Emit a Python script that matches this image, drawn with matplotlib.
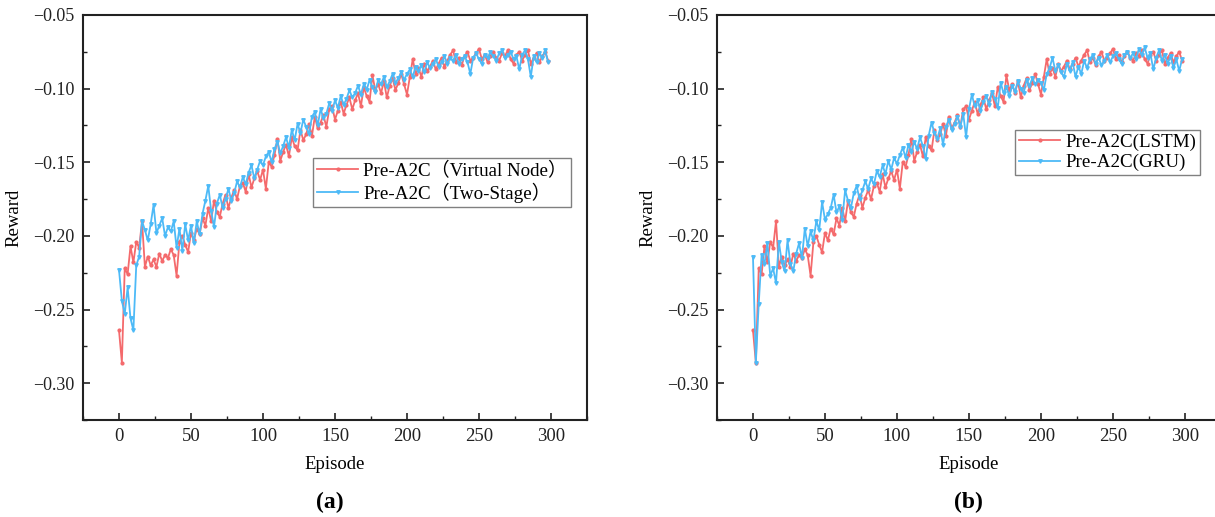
import numpy as np
import matplotlib
matplotlib.use("Agg")
import matplotlib.pyplot as plt
from matplotlib.ticker import MultipleLocator, FuncFormatter

plt.rcParams['font.family'] = ['Liberation Serif', 'Noto Sans CJK SC', 'DejaVu Sans']

# episodes (one sample every 2 episodes)
episodes = np.arange(0, 300, 2)

# baseline series, shared by both panels (red)
red_reward = [
    -0.264, -0.286, -0.222, -0.226, -0.207, -0.218, -0.204, -0.208, -0.190, -0.221,
    -0.214, -0.220, -0.216, -0.221, -0.212, -0.217, -0.213, -0.215, -0.209, -0.213,
    -0.227, -0.204, -0.200, -0.206, -0.211, -0.198, -0.203, -0.195, -0.199, -0.188,
    -0.193, -0.181, -0.190, -0.176, -0.184, -0.187, -0.178, -0.172, -0.181, -0.174,
    -0.169, -0.175, -0.166, -0.164, -0.170, -0.158, -0.167, -0.161, -0.156, -0.162,
    -0.155, -0.168, -0.150, -0.153, -0.145, -0.134, -0.149, -0.143, -0.138, -0.146,
    -0.133, -0.139, -0.142, -0.128, -0.135, -0.131, -0.124, -0.132, -0.119, -0.127,
    -0.123, -0.118, -0.126, -0.114, -0.112, -0.121, -0.115, -0.109, -0.117, -0.111,
    -0.106, -0.114, -0.108, -0.103, -0.112, -0.099, -0.105, -0.109, -0.091, -0.101,
    -0.097, -0.103, -0.095, -0.106, -0.098, -0.093, -0.101, -0.096, -0.090, -0.097,
    -0.104, -0.092, -0.080, -0.090, -0.086, -0.092, -0.083, -0.088, -0.085, -0.081,
    -0.087, -0.083, -0.079, -0.085, -0.081, -0.077, -0.074, -0.082, -0.079, -0.084,
    -0.078, -0.075, -0.081, -0.079, -0.076, -0.073, -0.080, -0.077, -0.082, -0.078,
    -0.075, -0.079, -0.081, -0.076, -0.078, -0.074, -0.080, -0.083, -0.077, -0.075,
    -0.081, -0.077, -0.074, -0.083, -0.079, -0.076, -0.082, -0.078, -0.075, -0.081,
]

# panel (a) blue: Two-Stage
two_stage_reward = [
    -0.223, -0.244, -0.253, -0.235, -0.256, -0.264, -0.220, -0.214, -0.190, -0.196,
    -0.203, -0.192, -0.179, -0.198, -0.193, -0.188, -0.200, -0.194, -0.197, -0.190,
    -0.208, -0.195, -0.210, -0.192, -0.203, -0.193, -0.205, -0.190, -0.199, -0.185,
    -0.176, -0.166, -0.183, -0.194, -0.178, -0.172, -0.181, -0.175, -0.168, -0.176,
    -0.171, -0.163, -0.167, -0.160, -0.165, -0.157, -0.152, -0.161, -0.155, -0.149,
    -0.152, -0.146, -0.143, -0.150, -0.141, -0.136, -0.144, -0.139, -0.133, -0.140,
    -0.128, -0.135, -0.124, -0.130, -0.121, -0.126, -0.131, -0.119, -0.116, -0.125,
    -0.114, -0.120, -0.117, -0.110, -0.115, -0.108, -0.113, -0.105, -0.111, -0.107,
    -0.101, -0.106, -0.103, -0.098, -0.104, -0.097, -0.101, -0.094, -0.099, -0.102,
    -0.094, -0.097, -0.092, -0.099, -0.095, -0.090, -0.096, -0.093, -0.089, -0.094,
    -0.090, -0.087, -0.092, -0.085, -0.088, -0.084, -0.089, -0.082, -0.086, -0.083,
    -0.080, -0.085, -0.082, -0.078, -0.083, -0.079, -0.081, -0.077, -0.083, -0.080,
    -0.078, -0.082, -0.090, -0.079, -0.076, -0.080, -0.083, -0.077, -0.079, -0.075,
    -0.078, -0.081, -0.076, -0.074, -0.079, -0.077, -0.075, -0.080, -0.078, -0.087,
    -0.077, -0.074, -0.080, -0.092, -0.078, -0.082, -0.076, -0.079, -0.074, -0.082,
]

# panel (b) blue: GRU
gru_reward = [
    -0.214, -0.286, -0.246, -0.213, -0.219, -0.205, -0.227, -0.222, -0.232, -0.204,
    -0.218, -0.224, -0.203, -0.219, -0.224, -0.212, -0.205, -0.215, -0.195, -0.207,
    -0.197, -0.203, -0.190, -0.196, -0.177, -0.189, -0.185, -0.181, -0.172, -0.184,
    -0.180, -0.189, -0.169, -0.176, -0.181, -0.171, -0.166, -0.175, -0.169, -0.163,
    -0.168, -0.161, -0.165, -0.156, -0.160, -0.152, -0.158, -0.149, -0.155, -0.147,
    -0.151, -0.145, -0.140, -0.147, -0.138, -0.143, -0.136, -0.141, -0.133, -0.139,
    -0.148, -0.132, -0.123, -0.130, -0.134, -0.127, -0.138, -0.126, -0.121, -0.128,
    -0.124, -0.119, -0.126, -0.117, -0.133, -0.114, -0.104, -0.112, -0.108, -0.115,
    -0.109, -0.105, -0.111, -0.102, -0.107, -0.113, -0.096, -0.103, -0.099, -0.105,
    -0.098, -0.102, -0.095, -0.100, -0.103, -0.094, -0.098, -0.093, -0.097, -0.094,
    -0.096, -0.101, -0.090, -0.086, -0.079, -0.088, -0.084, -0.089, -0.092, -0.083,
    -0.088, -0.082, -0.092, -0.085, -0.090, -0.081, -0.086, -0.080, -0.077, -0.083,
    -0.079, -0.084, -0.081, -0.077, -0.082, -0.078, -0.076, -0.080, -0.083, -0.077,
    -0.075, -0.079, -0.076, -0.080, -0.073, -0.077, -0.072, -0.079, -0.076, -0.087,
    -0.079, -0.074, -0.081, -0.077, -0.083, -0.078, -0.086, -0.080, -0.088, -0.080,
]

labels_a = ['Pre-A2C（Virtual Node）', 'Pre-A2C（Two-Stage）']
labels_b = ['Pre-A2C(LSTM)', 'Pre-A2C(GRU)']

RED = '#F46A6C'
BLUE = '#4DBAF7'

fig = plt.figure(figsize=(12.15, 5.17), dpi=100)
ax_a = fig.add_axes([0.0683, 0.1876, 0.4148, 0.7834])
ax_b = fig.add_axes([0.5901, 0.1876, 0.4148, 0.7834])

neg_fmt = FuncFormatter(lambda v, pos: ('\u2212' if v < 0 else '') + '%.2f' % abs(v))


def draw_panel(ax, blue, labels, legend_xy):
    ax.plot(episodes, red_reward, color=RED, lw=1.3, marker='o', ms=2,
            label=labels[0])
    ax.plot(episodes, blue, color=BLUE, lw=1.3, marker='v', ms=2.5,
            label=labels[1])
    ax.set_xlim(-25, 325)
    ax.set_ylim(-0.325, -0.05)
    ax.xaxis.set_major_locator(MultipleLocator(50))
    ax.xaxis.set_minor_locator(MultipleLocator(25))
    ax.yaxis.set_major_locator(MultipleLocator(0.05))
    ax.yaxis.set_minor_locator(MultipleLocator(0.025))
    ax.yaxis.set_major_formatter(neg_fmt)
    ax.tick_params(which='both', direction='in', top=False, right=False,
                   colors='#222222')
    ax.tick_params(axis='y', labelsize=13)
    ax.tick_params(axis='x', labelsize=13.5)
    ax.tick_params(which='major', length=5, width=1.2, pad=6)
    ax.tick_params(which='minor', length=3, width=1.0)
    for s in ax.spines.values():
        s.set_linewidth(1.5)
        s.set_color('#222222')
    ax.set_xlabel('Episode', fontsize=13.5, labelpad=8)
    ax.set_ylabel('Reward', fontsize=13.5, labelpad=8)
    leg = ax.legend(loc='upper left', bbox_to_anchor=legend_xy,
                    borderaxespad=0, fontsize=13.7, fancybox=False,
                    edgecolor='#808080', framealpha=1, handlelength=2.2,
                    handletextpad=0.25, borderpad=0.2, labelspacing=0.15)
    leg.get_frame().set_linewidth(1.0)


draw_panel(ax_a, two_stage_reward, labels_a, (0.456, 0.647))
draw_panel(ax_b, gru_reward, labels_b, (0.591, 0.716))

fig.text(330 / 1215, 1 - 502 / 517, '(a)', fontsize=17, fontweight='bold',
         ha='center', va='center')
fig.text(968 / 1215, 1 - 502 / 517, '(b)', fontsize=17, fontweight='bold',
         ha='center', va='center')

fig.savefig('out.png', dpi=100, facecolor='white')
